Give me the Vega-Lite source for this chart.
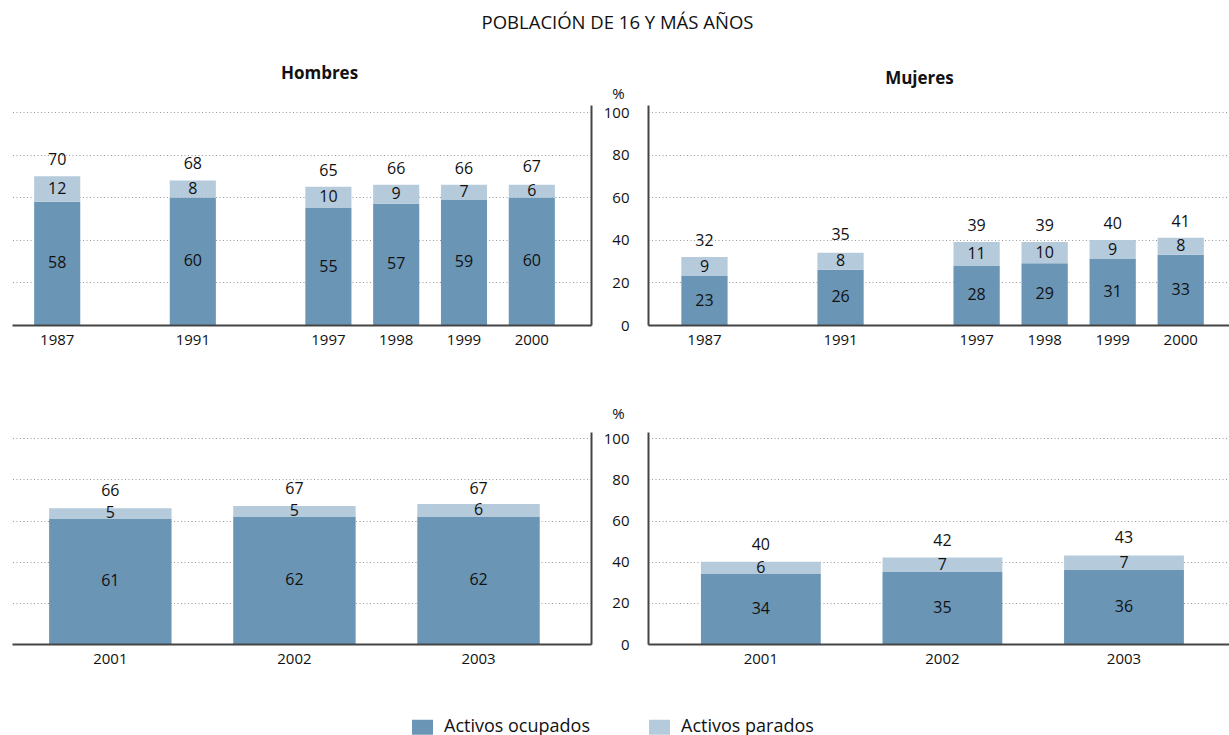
{
  "$schema": "https://vega.github.io/schema/vega-lite/v6.json",
  "padding": {"left": 12, "top": 13, "right": 0, "bottom": 0},
  "background": "white",
  "title": {"text": "POBLACIÓN DE 16 Y MÁS AÑOS", "fontSize": 18.5, "fontWeight": "normal", "anchor": "middle", "offset": 33, "dx": -3, "color": "#111"},
  "datasets": {
    "segs": [
      {"panel": "TL", "year": "1987", "tipo": "Activos ocupados", "valor": 58},
      {"panel": "TL", "year": "1991", "tipo": "Activos ocupados", "valor": 60},
      {"panel": "TL", "year": "1997", "tipo": "Activos ocupados", "valor": 55},
      {"panel": "TL", "year": "1998", "tipo": "Activos ocupados", "valor": 57},
      {"panel": "TL", "year": "1999", "tipo": "Activos ocupados", "valor": 59},
      {"panel": "TL", "year": "2000", "tipo": "Activos ocupados", "valor": 60},
      {"panel": "TL", "year": "1987", "tipo": "Activos parados", "valor": 12},
      {"panel": "TL", "year": "1991", "tipo": "Activos parados", "valor": 8},
      {"panel": "TL", "year": "1997", "tipo": "Activos parados", "valor": 10},
      {"panel": "TL", "year": "1998", "tipo": "Activos parados", "valor": 9},
      {"panel": "TL", "year": "1999", "tipo": "Activos parados", "valor": 7},
      {"panel": "TL", "year": "2000", "tipo": "Activos parados", "valor": 6},
      {"panel": "TR", "year": "1987", "tipo": "Activos ocupados", "valor": 23},
      {"panel": "TR", "year": "1991", "tipo": "Activos ocupados", "valor": 26},
      {"panel": "TR", "year": "1997", "tipo": "Activos ocupados", "valor": 28},
      {"panel": "TR", "year": "1998", "tipo": "Activos ocupados", "valor": 29},
      {"panel": "TR", "year": "1999", "tipo": "Activos ocupados", "valor": 31},
      {"panel": "TR", "year": "2000", "tipo": "Activos ocupados", "valor": 33},
      {"panel": "TR", "year": "1987", "tipo": "Activos parados", "valor": 9},
      {"panel": "TR", "year": "1991", "tipo": "Activos parados", "valor": 8},
      {"panel": "TR", "year": "1997", "tipo": "Activos parados", "valor": 11},
      {"panel": "TR", "year": "1998", "tipo": "Activos parados", "valor": 10},
      {"panel": "TR", "year": "1999", "tipo": "Activos parados", "valor": 9},
      {"panel": "TR", "year": "2000", "tipo": "Activos parados", "valor": 8},
      {"panel": "BL", "year": "2001", "tipo": "Activos ocupados", "valor": 61},
      {"panel": "BL", "year": "2002", "tipo": "Activos ocupados", "valor": 62},
      {"panel": "BL", "year": "2003", "tipo": "Activos ocupados", "valor": 62},
      {"panel": "BL", "year": "2001", "tipo": "Activos parados", "valor": 5},
      {"panel": "BL", "year": "2002", "tipo": "Activos parados", "valor": 5},
      {"panel": "BL", "year": "2003", "tipo": "Activos parados", "valor": 6},
      {"panel": "BR", "year": "2001", "tipo": "Activos ocupados", "valor": 34},
      {"panel": "BR", "year": "2002", "tipo": "Activos ocupados", "valor": 35},
      {"panel": "BR", "year": "2003", "tipo": "Activos ocupados", "valor": 36},
      {"panel": "BR", "year": "2001", "tipo": "Activos parados", "valor": 6},
      {"panel": "BR", "year": "2002", "tipo": "Activos parados", "valor": 7},
      {"panel": "BR", "year": "2003", "tipo": "Activos parados", "valor": 7}
    ],
    "totals": [
      {"panel": "TL", "year": "1987", "total": 70},
      {"panel": "TL", "year": "1991", "total": 68},
      {"panel": "TL", "year": "1997", "total": 65},
      {"panel": "TL", "year": "1998", "total": 66},
      {"panel": "TL", "year": "1999", "total": 66},
      {"panel": "TL", "year": "2000", "total": 67},
      {"panel": "TR", "year": "1987", "total": 32},
      {"panel": "TR", "year": "1991", "total": 35},
      {"panel": "TR", "year": "1997", "total": 39},
      {"panel": "TR", "year": "1998", "total": 39},
      {"panel": "TR", "year": "1999", "total": 40},
      {"panel": "TR", "year": "2000", "total": 41},
      {"panel": "BL", "year": "2001", "total": 66},
      {"panel": "BL", "year": "2002", "total": 67},
      {"panel": "BL", "year": "2003", "total": 67},
      {"panel": "BR", "year": "2001", "total": 40},
      {"panel": "BR", "year": "2002", "total": 42},
      {"panel": "BR", "year": "2003", "total": 43}
    ]
  },
  "bounds": "flush",
  "columns": 2,
  "spacing": {"row": 107, "column": 57},
  "resolve": {"scale": {"color": "shared"}, "legend": {"color": "shared"}},
  "concat": [
    {
      "width": 579, "height": 220,
      "title": {"text": "Hombres", "fontSize": 17, "fontWeight": "bold", "dx": 18, "offset": 22, "color": "#111"},
      "encoding": {"x": {"field": "year", "type": "nominal", "sort": null,
        "scale": {"domain": ["1987", "g1", "1991", "g2", "1997", "1998", "1999", "2000"], "paddingInner": 0.32, "paddingOuter": 0.43, "align": 0.38},
        "axis": {"values": ["1987", "1991", "1997", "1998", "1999", "2000"], "title": null, "labelAngle": 0, "ticks": false, "labelPadding": 7, "zindex": 1}}},
      "layer": [
        {"data": {"name": "segs"}, "transform": [{"filter": "datum.panel == 'TL'"}],
         "mark": {"type": "bar"},
         "encoding": {
           "y": {"field": "valor", "type": "quantitative", "stack": "zero", "title": null, "scale": {"domain": [0, 103.5], "nice": false},
                 "axis": {"orient": "right", "values": [0, 20, 40, 60, 80, 100], "labels": false, "ticks": false, "grid": true, "title": null}},
           "color": {"field": "tipo", "type": "nominal", "scale": {"domain": ["Activos ocupados", "Activos parados"], "range": ["#6a95b5", "#b5cadb"]},
                     "legend": {"orient": "none", "legendX": 400, "legendY": 611.5, "direction": "horizontal", "title": null, "symbolType": "M-1,-0.714L1,-0.714L1,0.714L-1,0.714Z", "symbolSize": 441, "symbolStrokeWidth": 0, "symbolOpacity": 1, "labelFontSize": 18, "labelOffset": 11, "columnPadding": 59, "labelColor": "#111"}},
           "order": {"field": "tipo", "type": "nominal", "sort": "ascending"}
         }},
        {"data": {"name": "segs"}, "transform": [{"filter": "datum.panel == 'TL'"},
           {"stack": "valor", "groupby": ["year"], "sort": [{"field": "tipo", "order": "ascending"}], "as": ["v0", "v1"]},
           {"fold": ["v0", "v1"], "as": ["k", "pos"]},
           {"aggregate": [{"op": "mean", "field": "pos", "as": "mid"}], "groupby": ["year", "tipo", "valor"]}],
         "mark": {"type": "text", "fontSize": 16, "color": "#111", "baseline": "middle"},
         "encoding": {"y": {"field": "mid", "type": "quantitative", "title": null}, "text": {"field": "valor", "type": "quantitative"}}},
        {"data": {"name": "totals"}, "transform": [{"filter": "datum.panel == 'TL'"}],
         "mark": {"type": "text", "fontSize": 16, "color": "#111", "baseline": "middle", "dy": -16},
         "encoding": {"y": {"field": "total", "type": "quantitative", "title": null}, "text": {"field": "total", "type": "quantitative"}}}
      ]
    },
    {
      "width": 581, "height": 220,
      "title": {"text": "Mujeres", "fontSize": 17, "fontWeight": "bold", "dx": -19, "offset": -2, "color": "#111"},
      "encoding": {"x": {"field": "year", "type": "nominal", "sort": null,
        "scale": {"domain": ["1987", "g1", "1991", "g2", "1997", "1998", "1999", "2000"], "paddingInner": 0.32, "paddingOuter": 0.43, "align": 0.57},
        "axis": {"values": ["1987", "1991", "1997", "1998", "1999", "2000"], "title": null, "labelAngle": 0, "ticks": false, "labelPadding": 7, "zindex": 1}}},
      "layer": [
        {"data": {"name": "segs"}, "transform": [{"filter": "datum.panel == 'TR'"}],
         "mark": {"type": "bar"},
         "encoding": {
           "y": {"field": "valor", "type": "quantitative", "stack": "zero", "title": "%", "scale": {"domain": [0, 103.5], "nice": false},
                 "axis": {"orient": "left", "values": [0, 20, 40, 60, 80, 100], "ticks": false, "grid": true, "labelPadding": 19, "titleAngle": 0, "titleX": -30, "titleY": -12, "titleAlign": "center", "titleBaseline": "middle"}},
           "color": {"field": "tipo", "type": "nominal"},
           "order": {"field": "tipo", "type": "nominal", "sort": "ascending"}
         }},
        {"data": {"name": "segs"}, "transform": [{"filter": "datum.panel == 'TR'"},
           {"stack": "valor", "groupby": ["year"], "sort": [{"field": "tipo", "order": "ascending"}], "as": ["v0", "v1"]},
           {"fold": ["v0", "v1"], "as": ["k", "pos"]},
           {"aggregate": [{"op": "mean", "field": "pos", "as": "mid"}], "groupby": ["year", "tipo", "valor"]}],
         "mark": {"type": "text", "fontSize": 16, "color": "#111", "baseline": "middle"},
         "encoding": {"y": {"field": "mid", "type": "quantitative", "title": "%"}, "text": {"field": "valor", "type": "quantitative"}}},
        {"data": {"name": "totals"}, "transform": [{"filter": "datum.panel == 'TR'"}],
         "mark": {"type": "text", "fontSize": 16, "color": "#111", "baseline": "middle", "dy": -16},
         "encoding": {"y": {"field": "total", "type": "quantitative", "title": "%"}, "text": {"field": "total", "type": "quantitative"}}}
      ]
    },
    {
      "width": 579, "height": 212,
      "encoding": {"x": {"field": "year", "type": "nominal", "sort": null,
        "scale": {"domain": ["2001", "2002", "2003"], "paddingInner": 0.335, "paddingOuter": 0.24, "align": 0.42},
        "axis": {"title": null, "labelAngle": 0, "ticks": false, "labelPadding": 7, "zindex": 1}}},
      "layer": [
        {"data": {"name": "segs"}, "transform": [{"filter": "datum.panel == 'BL'"}],
         "mark": {"type": "bar"},
         "encoding": {
           "y": {"field": "valor", "type": "quantitative", "stack": "zero", "title": null, "scale": {"domain": [0, 103], "nice": false},
                 "axis": {"orient": "right", "values": [0, 20, 40, 60, 80, 100], "labels": false, "ticks": false, "grid": true, "title": null}},
           "color": {"field": "tipo", "type": "nominal"},
           "order": {"field": "tipo", "type": "nominal", "sort": "ascending"}
         }},
        {"data": {"name": "segs"}, "transform": [{"filter": "datum.panel == 'BL'"},
           {"stack": "valor", "groupby": ["year"], "sort": [{"field": "tipo", "order": "ascending"}], "as": ["v0", "v1"]},
           {"fold": ["v0", "v1"], "as": ["k", "pos"]},
           {"aggregate": [{"op": "mean", "field": "pos", "as": "mid"}], "groupby": ["year", "tipo", "valor"]}],
         "mark": {"type": "text", "fontSize": 16, "color": "#111", "baseline": "middle"},
         "encoding": {"y": {"field": "mid", "type": "quantitative", "title": null}, "text": {"field": "valor", "type": "quantitative"}}},
        {"data": {"name": "totals"}, "transform": [{"filter": "datum.panel == 'BL'"}],
         "mark": {"type": "text", "fontSize": 16, "color": "#111", "baseline": "middle", "dy": -17},
         "encoding": {"y": {"field": "total", "type": "quantitative", "title": null}, "text": {"field": "total", "type": "quantitative"}}}
      ]
    },
    {
      "width": 581, "height": 212,
      "encoding": {"x": {"field": "year", "type": "nominal", "sort": null,
        "scale": {"domain": ["2001", "2002", "2003"], "paddingInner": 0.34, "paddingOuter": 0.27, "align": 0.54},
        "axis": {"title": null, "labelAngle": 0, "ticks": false, "labelPadding": 7, "zindex": 1}}},
      "layer": [
        {"data": {"name": "segs"}, "transform": [{"filter": "datum.panel == 'BR'"}],
         "mark": {"type": "bar"},
         "encoding": {
           "y": {"field": "valor", "type": "quantitative", "stack": "zero", "title": "%", "scale": {"domain": [0, 103], "nice": false},
                 "axis": {"orient": "left", "values": [0, 20, 40, 60, 80, 100], "ticks": false, "grid": true, "labelPadding": 19, "titleAngle": 0, "titleX": -30, "titleY": -19, "titleAlign": "center", "titleBaseline": "middle"}},
           "color": {"field": "tipo", "type": "nominal"},
           "order": {"field": "tipo", "type": "nominal", "sort": "ascending"}
         }},
        {"data": {"name": "segs"}, "transform": [{"filter": "datum.panel == 'BR'"},
           {"stack": "valor", "groupby": ["year"], "sort": [{"field": "tipo", "order": "ascending"}], "as": ["v0", "v1"]},
           {"fold": ["v0", "v1"], "as": ["k", "pos"]},
           {"aggregate": [{"op": "mean", "field": "pos", "as": "mid"}], "groupby": ["year", "tipo", "valor"]}],
         "mark": {"type": "text", "fontSize": 16, "color": "#111", "baseline": "middle"},
         "encoding": {"y": {"field": "mid", "type": "quantitative", "title": "%"}, "text": {"field": "valor", "type": "quantitative"}}},
        {"data": {"name": "totals"}, "transform": [{"filter": "datum.panel == 'BR'"}],
         "mark": {"type": "text", "fontSize": 16, "color": "#111", "baseline": "middle", "dy": -17},
         "encoding": {"y": {"field": "total", "type": "quantitative", "title": "%"}, "text": {"field": "total", "type": "quantitative"}}}
      ]
    }
  ],
  "config": {
    "font": "Open Sans",
    "view": {"stroke": null},
    "axis": {
      "domainColor": "#444", "domainWidth": 2,
      "gridColor": "#999", "gridDash": [1, 2.5], "gridWidth": 1,
      "labelFont": "Open Sans", "labelFontSize": 15, "labelColor": "#111",
      "titleFont": "Open Sans", "titleFontSize": 15, "titleFontWeight": "normal", "titleColor": "#111"
    },
    "legend": {"labelFont": "Open Sans"},
    "title": {"font": "Open Sans"}
  }
}
